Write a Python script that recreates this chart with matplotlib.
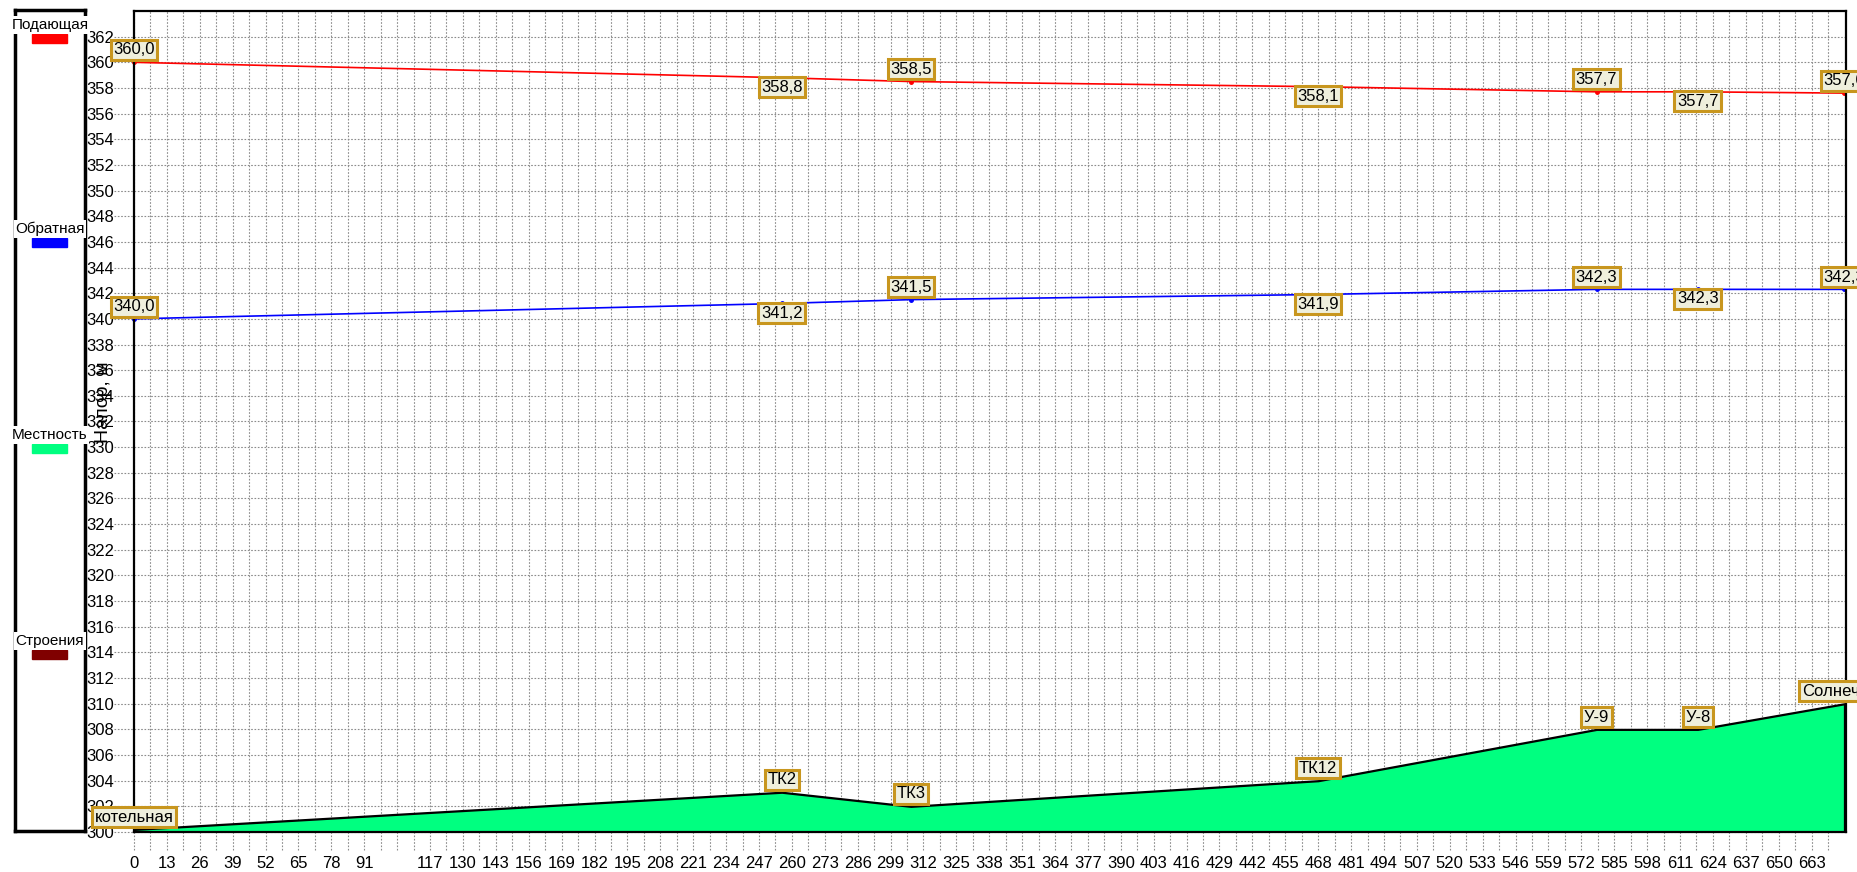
import numpy as np
import matplotlib
matplotlib.use('Agg')
import matplotlib.pyplot as plt
from matplotlib.patches import Rectangle

plt.rcParams['font.family'] = ['Liberation Sans', 'DejaVu Sans']

# data
dist = [0, 256, 307, 468, 578, 618, 676]
names = ['котельная', 'ТК2', 'ТК3', 'ТК12', 'У-9', 'У-8', 'Солнечная']
supply = [360.0, 358.8, 358.5, 358.1, 357.7, 357.7, 357.6]
ret = [340.0, 341.2, 341.5, 341.9, 342.3, 342.3, 342.3]
terrain = [300.2, 303.1, 302.0, 304.0, 308.0, 308.0, 310.0]

legend_names = ['Подающая', 'Обратная', 'Местность', 'Строения']
legend_colors = ['#ff0000', '#0000ff', '#00ff80', '#800000']

xticks = list(range(0, 664, 13))
xlabels = ['' if t == 104 else str(t) for t in xticks]
yticks = list(range(300, 363, 2))

W, H = 1858, 872
fig = plt.figure(figsize=(W / 100, H / 100), dpi=100)
ax = fig.add_axes([134 / W, 40 / H, (1846 - 134) / W, (832 - 11) / H])
ax.set_xlim(0, 676.6)
ax.set_ylim(300, 364)

grid_kw = dict(color='#8c8c8c', lw=0.8, linestyle=(0, (1.5, 1.5)), zorder=0, clip_on=False)
for y in yticks:
    ax.axhline(y, xmin=-0.0117, xmax=1, **grid_kw)
for x in np.arange(0, 676, 6.5):
    ax.axvline(x, ymin=-0.022, ymax=1, **grid_kw)

ax.set_xticks(xticks)
ax.set_xticklabels(xlabels)
ax.set_yticks(yticks)
ax.tick_params(length=0, labelsize=12)
ax.tick_params(axis='y', pad=14)
ax.tick_params(axis='x', pad=17)
for s in ax.spines.values():
    s.set_linewidth(1.6)
    s.set_zorder(5)

ax.fill_between(dist, 300, terrain, facecolor='#00ff80', edgecolor='black', lw=1.6, zorder=2)
ax.plot(dist, supply, color='#ff0000', lw=1.2, marker='o', ms=2.5, zorder=3, clip_on=False)
ax.plot(dist, ret, color='#0000ff', lw=1.2, marker='o', ms=2.5, zorder=3, clip_on=False)

box = dict(boxstyle='square,pad=0.15', fc='#efefdc', ec='#c8961e', lw=2.2)

def tag(x, y, txt, above):
    ax.annotate(txt, (x, y), xytext=(0, 3.5 if above else -1.5), textcoords='offset points',
                ha='center', va='bottom' if above else 'top', fontsize=12,
                bbox=box, zorder=6, annotation_clip=False)

for i, x in enumerate(dist):
    up = i % 2 == 0
    tag(x, supply[i], f'{supply[i]:.1f}'.replace('.', ','), up)
    tag(x, ret[i], f'{ret[i]:.1f}'.replace('.', ','), up)
    tag(x, terrain[i], names[i], True)

fig.text(104 / W, 1 - 402 / H, 'Напор, м', rotation=90, ha='center', va='center', fontsize=14)

# legend panel on the left
lg = fig.add_axes([15 / W, 41 / H, (85 - 15) / W, (831 - 10) / H])
lg.set_xlim(0, 70)
lg.set_ylim(821, 0)
lg.set_xticks([])
lg.set_yticks([])
for s in lg.spines.values():
    s.set_linewidth(2.5)
text_y = [15, 219, 425, 631]
for ty, name, col in zip(text_y, legend_names, legend_colors):
    lg.text(35, ty, name, ha='center', va='center', fontsize=11,
            bbox=dict(boxstyle='square,pad=0.1', fc='white', ec='none'), clip_on=False)
    lg.add_patch(Rectangle((17, ty + 9), 35, 9, color=col))

fig.savefig('out.png', dpi=100)
